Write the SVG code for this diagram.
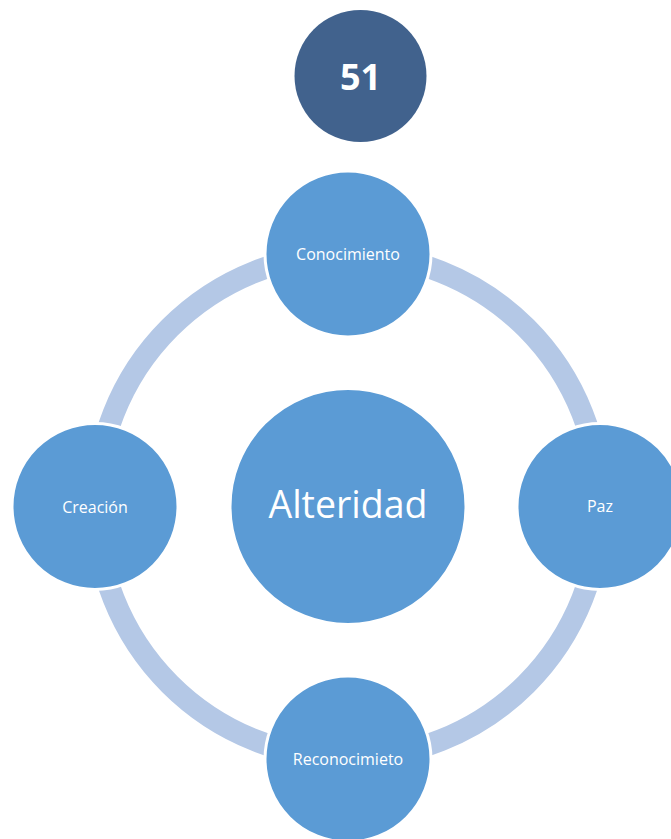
<svg xmlns="http://www.w3.org/2000/svg" width="671" height="839" viewBox="0 0 671 839">
<style>
.node{fill:#5b9bd5;stroke:#ffffff;stroke-width:3}
.lbl{fill:#ffffff;font-family:"Open Sans","Liberation Sans",sans-serif;font-size:16px;text-anchor:middle}
</style>
<rect width="671" height="839" fill="#ffffff"/>
<g id="connectors">
<circle cx="348" cy="506" r="252" fill="none" stroke="#b4c8e6" stroke-width="22"/>
</g>
<g id="n51">
<circle cx="360.5" cy="76" r="66" fill="#41628d"/>
<text x="360.5" y="90" fill="#ffffff" font-family="'Open Sans','Liberation Sans',sans-serif" font-size="36" font-weight="bold" text-anchor="middle">51</text>
</g>
<g id="alteridad">
<circle class="node" cx="348" cy="506.5" r="118"/>
<text x="348" y="518" fill="#ffffff" font-family="'Open Sans','Liberation Sans',sans-serif" font-size="37.5" text-anchor="middle">Alteridad</text>
</g>
<g id="conocimiento">
<circle class="node" cx="348" cy="254" r="83"/>
<text class="lbl" x="348" y="260">Conocimiento</text>
</g>
<g id="paz">
<circle class="node" cx="600" cy="506.5" r="83"/>
<text class="lbl" x="600" y="512">Paz</text>
</g>
<g id="reconocimieto">
<circle class="node" cx="348" cy="759" r="83"/>
<text class="lbl" x="348" y="765">Reconocimieto</text>
</g>
<g id="creacion">
<circle class="node" cx="95" cy="506.5" r="83"/>
<text class="lbl" x="95" y="512.5">Creación</text>
</g>
</svg>
